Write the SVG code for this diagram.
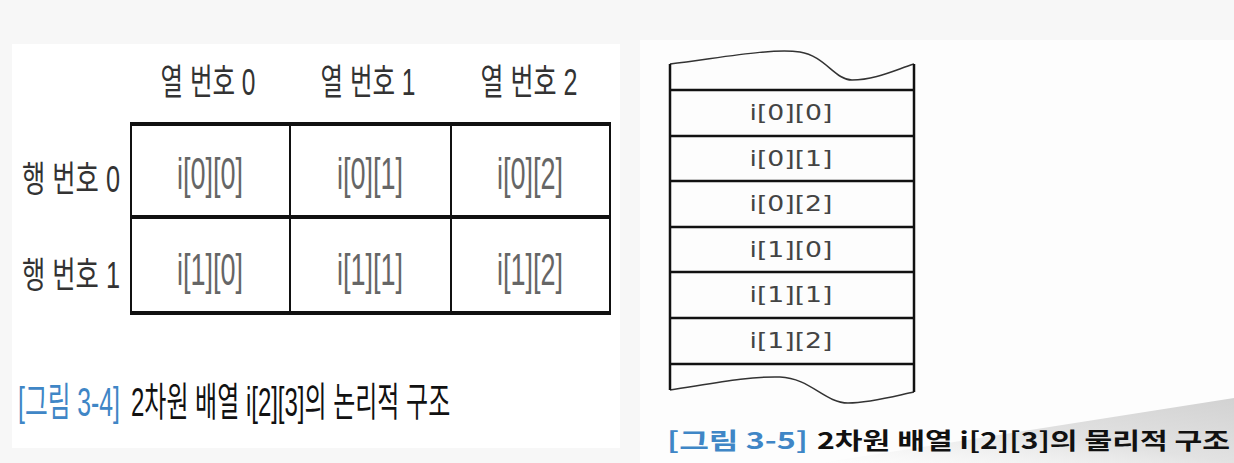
<svg xmlns="http://www.w3.org/2000/svg" width="1234" height="463" viewBox="0 0 1234 463">
<style>
.ko{font-family:"Liberation Sans","Noto Sans CJK KR",sans-serif;}
.hdr{font-size:36px;fill:#333;}
.cell{font-size:44px;fill:#666;}
.mem{font-family:"DejaVu Sans","Noto Sans CJK KR",sans-serif;font-size:21px;fill:#444;}
.cap1{font-size:40px;fill:#111;}
.cap2{font-family:"Noto Sans CJK KR",sans-serif;font-size:23px;fill:#111;font-weight:bold;}
.blue{fill:#3f86c6;}
.thin{stroke:#111;stroke-width:2;fill:none;}
.thick{stroke:#111;stroke-width:4;fill:none;}
.wave{stroke:#333;stroke-width:1.5;fill:none;}
.mline{stroke:#111;stroke-width:2.5;fill:none;}
</style>
<defs>
<linearGradient id="shade" x1="0" y1="1" x2="1" y2="0">
<stop offset="0" stop-color="#eeeeee" stop-opacity="0"/>
<stop offset="0.5" stop-color="#e2e2e2"/>
<stop offset="1" stop-color="#d2d2d2"/>
</linearGradient>
</defs>
<rect x="0" y="0" width="1234" height="463" fill="#f7f7f7"/>
<rect x="12" y="44" width="608" height="404" fill="#ffffff"/>
<rect x="640" y="40" width="594" height="423" fill="#fdfdfd"/>
<polygon points="820,463 1234,398 1234,463" fill="url(#shade)"/>

<g id="logical">
<g id="headers" class="ko hdr">
<text x="208" y="95" text-anchor="middle" textLength="95" lengthAdjust="spacingAndGlyphs">열 번호 0</text>
<text x="368" y="95" text-anchor="middle" textLength="95" lengthAdjust="spacingAndGlyphs">열 번호 1</text>
<text x="529" y="95" text-anchor="middle" textLength="97" lengthAdjust="spacingAndGlyphs">열 번호 2</text>
</g>
<g id="rowlabels" class="ko hdr">
<text x="71" y="192" text-anchor="middle" textLength="98" lengthAdjust="spacingAndGlyphs">행 번호 0</text>
<text x="71" y="288" text-anchor="middle" textLength="98" lengthAdjust="spacingAndGlyphs">행 번호 1</text>
</g>
<g id="grid">
<line class="thick" x1="130" y1="124" x2="611" y2="124"/>
<line class="thick" x1="130" y1="217" x2="611" y2="217"/>
<line class="thick" x1="130" y1="313" x2="611" y2="313"/>
<line class="thin" x1="131" y1="124" x2="131" y2="313"/>
<line class="thin" x1="290" y1="124" x2="290" y2="313"/>
<line class="thin" x1="451" y1="124" x2="451" y2="313"/>
<line class="thin" x1="610" y1="124" x2="610" y2="313"/>
</g>
<g id="cells" class="ko cell">
<text x="210" y="189" text-anchor="middle" textLength="66" lengthAdjust="spacingAndGlyphs">i[0][0]</text>
<text x="370" y="189" text-anchor="middle" textLength="66" lengthAdjust="spacingAndGlyphs">i[0][1]</text>
<text x="530" y="189" text-anchor="middle" textLength="66" lengthAdjust="spacingAndGlyphs">i[0][2]</text>
<text x="210" y="285" text-anchor="middle" textLength="66" lengthAdjust="spacingAndGlyphs">i[1][0]</text>
<text x="370" y="285" text-anchor="middle" textLength="66" lengthAdjust="spacingAndGlyphs">i[1][1]</text>
<text x="530" y="285" text-anchor="middle" textLength="66" lengthAdjust="spacingAndGlyphs">i[1][2]</text>
</g>
<g id="caption-left" class="ko cap1">
<text transform="translate(18,416) scale(0.6,1)" x="0" y="0" class="blue" textLength="170" lengthAdjust="spacingAndGlyphs">[그림 3-4]</text>
<text transform="translate(131,416) scale(0.56,1)" x="0" y="0" textLength="570" lengthAdjust="spacingAndGlyphs">2차원 배열 i[2][3]의 논리적 구조</text>
</g>
</g>

<g id="physical">
<g id="frame">
<path class="wave" d="M670,64 C720,58 770,48 800,52 C825,56 835,80 852,80 C875,80 895,70 914,64"/>
<path class="wave" d="M670,390 C710,384 750,376 780,377 C810,378 825,403 848,403 C870,403 895,396 914,392"/>
<line class="mline" x1="670" y1="64" x2="670" y2="390"/>
<line class="mline" x1="914" y1="64" x2="914" y2="392"/>
<line class="mline" x1="670" y1="90" x2="914" y2="90"/>
<line class="mline" x1="670" y1="136" x2="914" y2="136"/>
<line class="mline" x1="670" y1="181" x2="914" y2="181"/>
<line class="mline" x1="670" y1="227" x2="914" y2="227"/>
<line class="mline" x1="670" y1="272" x2="914" y2="272"/>
<line class="mline" x1="670" y1="318" x2="914" y2="318"/>
<line class="mline" x1="670" y1="364" x2="914" y2="364"/>
</g>
<g id="memcells" class="mem">
<text x="791" y="120" text-anchor="middle" textLength="83" lengthAdjust="spacingAndGlyphs">i[0][0]</text>
<text x="791" y="166" text-anchor="middle" textLength="83" lengthAdjust="spacingAndGlyphs">i[0][1]</text>
<text x="791" y="211" text-anchor="middle" textLength="83" lengthAdjust="spacingAndGlyphs">i[0][2]</text>
<text x="791" y="257" text-anchor="middle" textLength="83" lengthAdjust="spacingAndGlyphs">i[1][0]</text>
<text x="791" y="302" text-anchor="middle" textLength="83" lengthAdjust="spacingAndGlyphs">i[1][1]</text>
<text x="791" y="348" text-anchor="middle" textLength="83" lengthAdjust="spacingAndGlyphs">i[1][2]</text>
</g>
<g id="caption-right" class="cap2">
<text x="667" y="449" class="blue" textLength="141" lengthAdjust="spacingAndGlyphs">[그림 3-5]</text>
<text x="817" y="449" textLength="413" lengthAdjust="spacingAndGlyphs">2차원 배열 i[2][3]의 물리적 구조</text>
</g>
</g>
</svg>
